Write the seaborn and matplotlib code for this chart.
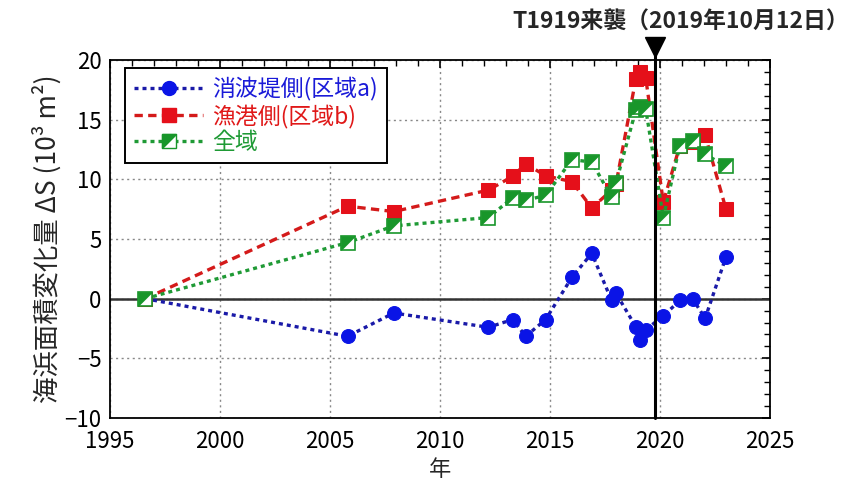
import numpy as np
import pandas as pd
import matplotlib
matplotlib.use("Agg")
import matplotlib.pyplot as plt
from matplotlib.lines import Line2D
from matplotlib.legend_handler import HandlerTuple
from matplotlib.ticker import MultipleLocator
import matplotlib.transforms as mtransforms
import seaborn as sns

# ---- data ----
years = [1996.6, 2005.8, 2007.9, 2012.2, 2013.3, 2013.9, 2014.8, 2016.0, 2016.9,
         2017.8, 2018.0, 2018.9, 2019.1, 2019.35, 2020.15, 2020.9, 2021.5, 2022.05, 2023.0]
area_a = [0, -3.15, -1.2, -2.4, -1.75, -3.15, -1.75, 1.8, 3.8,
          -0.15, 0.45, -2.35, -3.5, -2.6, -1.45, -0.15, -0.05, -1.65, 3.5]
area_b = [0, 7.75, 7.3, 9.1, 10.25, 11.3, 10.3, 9.8, 7.6,
          9.1, 9.6, 18.4, 19.0, 18.5, 8.1, 12.8, 13.1, 13.7, 7.5]
area_all = [0, 4.7, 6.1, 6.8, 8.45, 8.25, 8.65, 11.65, 11.45,
            8.5, 9.7, 15.8, 16.1, 15.9, 6.8, 12.8, 13.2, 12.1, 11.1]
series_names = ["消波堤側(区域a)", "漁港側(区域b)", "全域"]
typhoon_date = 2019.78
typhoon_label = "T1919来襲（2019年10月12日）"
x_ticks = [1995, 2000, 2005, 2010, 2015, 2020, 2025]
y_ticks = [-10, -5, 0, 5, 10, 15, 20]

sns.set_style("white")
plt.rcParams["font.family"] = ["Noto Sans CJK JP", "DejaVu Sans"]
plt.rcParams["axes.unicode_minus"] = True

fig = plt.figure(figsize=(8.68, 4.80), dpi=100)
ax = fig.add_axes([110 / 868, 1 - 418 / 480, 660 / 868, 358 / 480])

blue_c, blue_l = "#0a14e6", "#1a1aa8"
red_c, red_l = "#e5101a", "#d41a1a"
green_c, green_l = "#18962a", "#1f9a35"

df = pd.DataFrame({"year": years, "a": area_a, "b": area_b, "all": area_all})

ax.axhline(0, color="#333333", lw=1.8, zorder=1)

sns.lineplot(data=df, x="year", y="a", ax=ax, color=blue_l, lw=2.4,
             linestyle=(0, (1.2, 1.2)), marker="o", markersize=10,
             markerfacecolor=blue_c, markeredgecolor=blue_c, sort=True,
             estimator=None, zorder=3)
sns.lineplot(data=df, x="year", y="b", ax=ax, color=red_l, lw=2.4,
             linestyle=(0, (2.5, 1.6)), marker="s", markersize=10,
             markerfacecolor=red_c, markeredgecolor=red_c, sort=True,
             estimator=None, zorder=3)
sns.lineplot(data=df, x="year", y="all", ax=ax, color=green_l, lw=2.4,
             linestyle=(0, (1.2, 1.2)), marker="s", markersize=10,
             markerfacecolor="white", markeredgecolor=green_c, markeredgewidth=1.2,
             sort=True, estimator=None, zorder=4)
tri = [(-1, 1), (1, 1), (-1, -1), (-1, 1)]
ax.plot(df["year"], df["all"], linestyle="none", marker=tri, markersize=10,
        markerfacecolor=green_c, markeredgecolor=green_c, markeredgewidth=0.5,
        zorder=5)

ax.set_xlim(1995, 2025)
ax.set_ylim(-10, 20)
ax.set_xticks(x_ticks)
ax.set_yticks(y_ticks)
ax.xaxis.set_minor_locator(MultipleLocator(1))
ax.yaxis.set_minor_locator(MultipleLocator(1))
ax.tick_params(which="both", direction="in", top=True, right=True, colors="black",
               labelsize=16)
ax.tick_params(axis="x", pad=9)
ax.tick_params(axis="y", pad=6)
ax.tick_params(which="major", length=6, width=1.2)
ax.tick_params(which="minor", length=4, width=1.0)
ax.grid(True, which="major", color="#888888", linestyle=(0, (1.5, 2.5)), lw=1.0)
for s in ax.spines.values():
    s.set_color("black")
    s.set_linewidth(1.3)
ax.set_xlabel("年", fontsize=16, labelpad=3)
ax.set_ylabel("海浜面積変化量 ΔS (10³ m²)", fontsize=19, labelpad=2)

# typhoon marker
trans = mtransforms.blended_transform_factory(ax.transData, ax.transAxes)
ax.plot([typhoon_date, typhoon_date], [0, 1.03], transform=trans, color="black",
        lw=2.2, clip_on=False, zorder=6)
ax.plot([typhoon_date], [1.035], transform=trans, marker="v", markersize=15,
        color="black", clip_on=False, zorder=6)
fig.text(681 / 868, 1 - 22 / 480, typhoon_label, ha="center", va="center",
         fontsize=16.5, fontweight="bold")

# legend
h_a = Line2D([], [], color=blue_l, lw=2.4, linestyle=(0, (1.2, 1.2)), marker="o",
             markersize=10, markerfacecolor=blue_c, markeredgecolor=blue_c)
h_b = Line2D([], [], color=red_l, lw=2.4, linestyle=(0, (2.5, 1.6)), marker="s",
             markersize=10, markerfacecolor=red_c, markeredgecolor=red_c)
h_c1 = Line2D([], [], color=green_l, lw=2.4, linestyle=(0, (1.2, 1.2)), marker="s",
              markersize=10, markerfacecolor="white", markeredgecolor=green_c)
h_c2 = Line2D([], [], linestyle="none", marker=tri, markersize=10,
              markerfacecolor=green_c, markeredgecolor=green_c)
leg = ax.legend([h_a, h_b, (h_c1, h_c2)], series_names,
                handler_map={tuple: HandlerTuple(ndivide=1, pad=0)},
                loc="upper left", bbox_to_anchor=(15 / 660, 1 - 8 / 358),
                borderaxespad=0, fontsize=16.5,
                handlelength=3.0, handletextpad=0.4, labelspacing=0.12,
                borderpad=0.4, frameon=True, fancybox=False, framealpha=1)
leg.get_frame().set_edgecolor("black")
leg.get_frame().set_linewidth(1.4)
for t, c in zip(leg.get_texts(), ["#1a1ad8", "#e01818", "#1f9a35"]):
    t.set_color(c)

fig.savefig("out.png", dpi=100)
